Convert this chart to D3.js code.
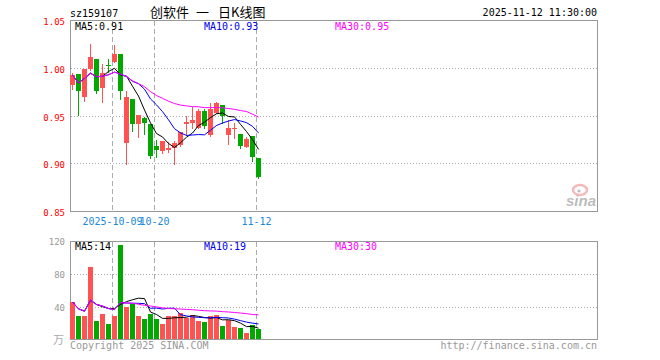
<!DOCTYPE html>
<html>
<head>
<meta charset="utf-8">
<script src="https://cdn.jsdelivr.net/npm/d3@7"></script>
<style>
  body { margin: 0; background: #fff; }
  text { font-family: "DejaVu Sans Mono", monospace; }
</style>
</head>
<body>
<div id="chart"></div>
<script>
const dates = ("2025-09-22 2025-09-23 2025-09-24 2025-09-25 2025-09-26 2025-09-29 2025-09-30 " +
  "2025-10-09 2025-10-10 2025-10-13 2025-10-14 2025-10-15 2025-10-16 2025-10-17 2025-10-20 " +
  "2025-10-21 2025-10-22 2025-10-23 2025-10-24 2025-10-27 2025-10-28 2025-10-29 2025-10-30 " +
  "2025-10-31 2025-11-03 2025-11-04 2025-11-05 2025-11-06 2025-11-07 2025-11-10 2025-11-11 2025-11-12").split(" ");

const opens = [0.9819, 0.993, 0.9698, 0.9983, 1.0094, 0.9785, 1.0028, 1.0063, 1.0149, 0.9212,
  0.967, 0.941, 0.9469, 0.941, 0.918, 0.9132, 0.914, 0.9156, 0.919, 0.941,
  0.9424, 0.937, 0.9549, 0.930, 0.9524, 0.9615, 0.930, 0.9365, 0.9306, 0.9167, 0.9288, 0.9056];
const closes = [0.9924, 0.9757, 0.9983, 1.0108, 0.9757, 0.9941, 1.0017, 1.0149, 0.9757, 0.9698,
  0.941, 0.9503, 0.942, 0.908, 0.914, 0.9233, 0.916, 0.9215, 0.9323, 0.943,
  0.9455, 0.9549, 0.9392, 0.9566, 0.9628, 0.9497, 0.9365, 0.937, 0.9177, 0.9253, 0.907, 0.886];
const highs = [0.9948, 0.993, 0.9983, 1.0253, 1.0094, 1.0035, 1.0094, 1.0233, 1.0149, 0.9757,
  0.967, 0.9503, 0.948, 0.941, 0.9243, 0.9233, 0.922, 0.9236, 0.933, 0.949,
  0.959, 0.9566, 0.9566, 0.9628, 0.9642, 0.9615, 0.945, 0.942, 0.9306, 0.927, 0.9288, 0.9056];
const lows = [0.978, 0.9503, 0.9653, 0.9972, 0.974, 0.9642, 0.9955, 1.0063, 0.967, 0.8993,
  0.934, 0.927, 0.9306, 0.9056, 0.907, 0.9104, 0.912, 0.8993, 0.918, 0.9295,
  0.9365, 0.9365, 0.9365, 0.9285, 0.9524, 0.942, 0.920, 0.9267, 0.916, 0.9167, 0.902, 0.8847];
const volumes = [46, 29.5, 29.5, 88, 22.5, 32, 19, 28.5, 113, 40,
  43.5, 28.5, 26, 31.5, 25, 20, 28.5, 29.5, 33, 27,
  30.5, 23.5, 22, 29.5, 30.5, 16.5, 24.5, 16, 15, 9, 18, 13.5];

const priceTicks = [1.05, 1.00, 0.95, 0.90, 0.85];
const volumeTicks = [120, 80, 40];
const dateTicks = ["2025-10-09", "2025-10-20", "2025-11-12"];
const dateTickLabels = ["2025-10-09", "10-20", "11-12"];

const red = "#ff5252";
const green = "#00a800";

const svg = d3.select("#chart").append("svg")
  .attr("width", 660)
  .attr("height", 360);

const left = 70, right = 597;
const pTop = 20, pBottom = 211;
const vTop = 241, vBottom = 339;

const x = d3.scaleBand().domain(dates).range([70, 261]).paddingInner(1 / 6).paddingOuter(0).align(0);
const y = d3.scaleLinear().domain([0.85, 1.05]).range([pBottom, pTop]);
const yv = d3.scaleLinear().domain([0, 120]).range([340, vTop]);

// moving average over what is available (fund listed on the first day)
function ma(arr, n) {
  return arr.map((d, i) => d3.mean(arr.slice(Math.max(0, i - n + 1), i + 1)));
}

// header
svg.append("text").attr("x", 70).attr("y", 16.5).attr("font-size", 10).text("sz159107");
const title = svg.append("text").attr("y", 17).attr("font-size", 13)
  .style("font-family", '"Noto Sans CJK SC", sans-serif');
title.append("tspan").attr("x", 150).text("创软件");
title.append("tspan").attr("x", 196).text("一");
title.append("tspan").attr("x", 218).text("日K线图");
svg.append("text").attr("x", 597).attr("y", 16).attr("font-size", 10)
  .attr("text-anchor", "end").text("2025-11-12 11:30:00");

// panels
[[pTop, pBottom], [vTop, vBottom]].forEach(([t, b]) => {
  svg.append("rect")
    .attr("x", left + 0.5).attr("y", t + 0.5)
    .attr("width", right - left).attr("height", b - t)
    .attr("fill", "none").attr("stroke", "#999");
});

// dotted grids
const grid = svg.append("g").attr("stroke", "#aaa").attr("stroke-dasharray", "1,2");
priceTicks.slice(1, -1).forEach((p) => {
  grid.append("line").attr("x1", left + 1).attr("x2", right)
    .attr("y1", Math.round(y(p)) + 0.5).attr("y2", Math.round(y(p)) + 0.5);
});
volumeTicks.slice(1).forEach((v) => {
  grid.append("line").attr("x1", left + 1).attr("x2", right)
    .attr("y1", Math.round(yv(v)) + 0.5).attr("y2", Math.round(yv(v)) + 0.5);
});

// dashed date lines
const dash = svg.append("g").attr("stroke", "#aaa").attr("stroke-dasharray", "5,3");
dateTicks.forEach((d) => {
  const xx = x(d) + 0.5;
  dash.append("line").attr("x1", xx).attr("x2", xx).attr("y1", pTop + 1).attr("y2", pBottom);
  dash.append("line").attr("x1", xx).attr("x2", xx).attr("y1", vTop + 1).attr("y2", vBottom);
});

// price tick labels
svg.append("g").selectAll("text").data(priceTicks).enter().append("text")
  .attr("x", 65).attr("y", (d) => y(d) + 5)
  .attr("text-anchor", "end").attr("font-size", 9).attr("fill", "#f00")
  .text((d) => d.toFixed(2));

// volume tick labels
svg.append("g").selectAll("text").data(volumeTicks).enter().append("text")
  .attr("x", 65).attr("y", (d) => yv(d) + 3.5)
  .attr("text-anchor", "end").attr("font-size", 9).attr("fill", "#999")
  .text((d) => d);
svg.append("text").attr("x", 64).attr("y", 344).attr("text-anchor", "end")
  .attr("font-size", 11).attr("fill", "#aaa")
  .style("font-family", '"Noto Sans CJK SC", sans-serif').text("万");

// date labels
svg.append("g").selectAll("text").data(dateTicks).enter().append("text")
  .attr("x", (d) => x(d) + 0.5).attr("y", 225)
  .attr("text-anchor", "middle").attr("font-size", 10).attr("fill", "#1a88d8")
  .text((d, i) => dateTickLabels[i]);

// sina watermark
const logo = svg.append("g").attr("opacity", 0.55);
logo.append("ellipse").attr("cx", 580).attr("cy", 190).attr("rx", 7).attr("ry", 5)
  .attr("fill", "none").attr("stroke", "#f08080").attr("stroke-width", 2.5);
logo.append("circle").attr("cx", 579).attr("cy", 191).attr("r", 1.6).attr("fill", "#888");
logo.append("text").attr("x", 596).attr("y", 206).attr("text-anchor", "end")
  .attr("font-size", 15).attr("font-weight", "bold").attr("font-style", "italic")
  .attr("fill", "#888").style("font-family", "Arial, 'Liberation Sans', sans-serif").text("sina");

// candles
const idx = d3.range(dates.length);
const up = (i) => closes[i] >= opens[i];
const candles = svg.append("g").attr("shape-rendering", "crispEdges");
candles.selectAll("line").data(idx).enter().append("line")
  .attr("x1", (i) => x(dates[i]) + 2.5).attr("x2", (i) => x(dates[i]) + 2.5)
  .attr("y1", (i) => Math.round(y(highs[i]))).attr("y2", (i) => Math.round(y(lows[i])) + 1)
  .attr("stroke", (i) => (up(i) ? red : green));
candles.selectAll("rect").data(idx).enter().append("rect")
  .attr("x", (i) => x(dates[i]))
  .attr("y", (i) => Math.round(y(Math.max(opens[i], closes[i]))))
  .attr("width", x.bandwidth())
  .attr("height", (i) => Math.max(1, Math.round(y(Math.min(opens[i], closes[i]))) - Math.round(y(Math.max(opens[i], closes[i])))))
  .attr("fill", (i) => (up(i) ? red : green));

// volume bars
svg.append("g").attr("shape-rendering", "crispEdges")
  .selectAll("rect").data(idx).enter().append("rect")
  .attr("x", (i) => x(dates[i]))
  .attr("y", (i) => Math.round(yv(volumes[i])))
  .attr("width", x.bandwidth())
  .attr("height", (i) => vBottom - Math.round(yv(volumes[i])))
  .attr("fill", (i) => (up(i) ? red : green));

// moving averages
const maDefs = [[5, "#000"], [10, "#0000ee"], [30, "#ff00ff"]];
maDefs.forEach(([n, color]) => {
  const pm = ma(closes, n);
  const vm = ma(volumes, n);
  const linePrice = d3.line().x((d, i) => x(dates[i]) + 2.5).y((d) => y(d));
  const lineVol = d3.line().x((d, i) => x(dates[i]) + 2.5).y((d) => yv(d));
  svg.append("path").attr("d", linePrice(pm)).attr("fill", "none").attr("stroke", color).attr("stroke-width", 1);
  svg.append("path").attr("d", lineVol(vm)).attr("fill", "none").attr("stroke", color).attr("stroke-width", 1);
});

// legends
const last = dates.length - 1;
const legendX = [75, 204, 335];
maDefs.forEach(([n, color], k) => {
  svg.append("text").attr("x", legendX[k]).attr("y", 29.5).attr("font-size", 10).attr("fill", color)
    .text(`MA${n}:${ma(closes, n)[last].toFixed(2)}`);
  svg.append("text").attr("x", legendX[k]).attr("y", 250).attr("font-size", 10).attr("fill", color)
    .text(`MA${n}:${Math.round(ma(volumes, n)[last])}`);
});
svg.append("rect").attr("x", 118).attr("y", 245).attr("width", 5).attr("height", 5)
  .attr("fill", up(last) ? red : green);

// footer
svg.append("text").attr("x", 70).attr("y", 349).attr("font-size", 10).attr("fill", "#999")
  .text("Copyright 2025 SINA.COM");
svg.append("text").attr("x", 597).attr("y", 348.5).attr("font-size", 10).attr("fill", "#999")
  .attr("text-anchor", "end").text("http://finance.sina.com.cn");
</script>
</body>
</html>
